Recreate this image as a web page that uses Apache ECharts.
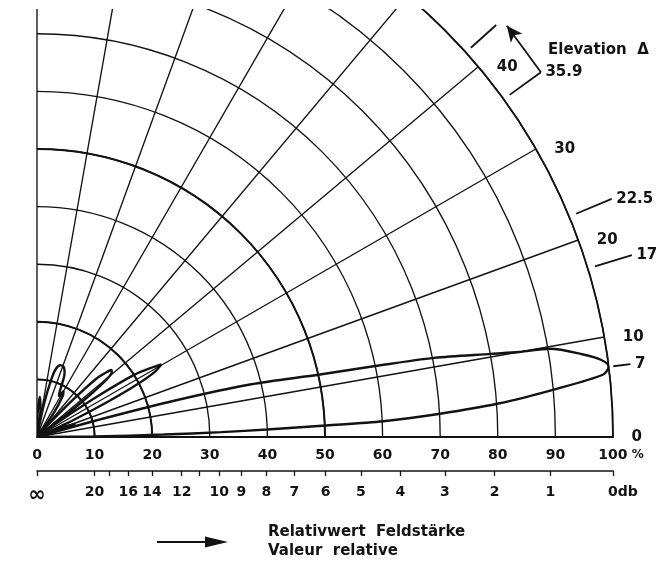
<!DOCTYPE html>
<html>
<head>
<meta charset="utf-8">
<title>Elevation pattern</title>
<script src="https://cdn.jsdelivr.net/npm/echarts@6/dist/echarts.min.js"></script>
<style>
  html, body { margin: 0; padding: 0; background: #fff; }
  #chart { width: 667px; height: 562px; }
</style>
</head>
<body>
<div id="chart"></div>
<script>
// vertical radiation pattern: elevation angle (deg) -> relative field strength (%)
const patternAngles = [0, 0.6, 1.1, 1.5, 1.86, 2.28, 2.61, 3.3, 4.15, 5.3, 6.3, 7.04, 7.8, 8.59, 9.75, 10.0, 10.37, 11.27, 11.85, 12.45, 13.85, 14.8, 15.5, 16.0,
  17.5, 19, 20.5, 22,
  23, 25, 26.5, 27.8, 29, 30.3, 31.3, 32.6, 33.8, 35, 36,
  37.5, 38.5, 39.5, 41, 42, 43, 44.5, 46, 47.5, 48,
  52, 55, 58, 60, 61.5, 63, 65, 66.5, 69, 72, 74.5, 76, 78, 80,
  83, 86, 88.5, 90]
const patternValues = [0, 10, 22, 32, 40, 50.2, 60.2, 70.1, 80.3, 90.6, 98.9, 100, 98.8, 95.9, 90.4, 85, 80.2, 70.3, 60, 50.3, 38.1, 25, 12, 0,
  5, 7, 5, 0,
  0, 7, 14, 20, 23.5, 25, 23, 20, 13, 5, 0,
  7, 12, 15.5, 17.2, 17.4, 16.5, 14.5, 9, 3, 0,
  0, 5, 8.5, 9.2, 8, 8.5, 10.5, 12, 13, 13.1, 12.3, 10.5, 6, 0,
  5, 7, 4, 0]

// grid / scales
const angleLabels = [0, 10, 20, 30, 40]
const thickArcs = [10, 20, 50]
const dbTicks = [20, 18, 16, 14, 12, 11, 10, 9, 8, 7, 6, 5, 4, 3, 2, 1, 0]
const dbLabels = [20, 16, 14, 12, 10, 9, 8, 7, 6, 5, 4, 3, 2, 1, 0]

// marked elevation angles on the rim
const markAngles = [7, 17, 22.5, 35.9]
const bracketAngle = 41.9

const CX = 37, CY = 437, R = 576
const INK = '#121212'
const FONT = 'DejaVu Sans'
const ANN = thickArcs.length + 1   // polar used for the marks outside the rim (radius up to 110 %)

const pct = db => 100 * Math.pow(10, -db / 20)
const dbOf = p => Math.round(-20 * Math.log10(p / 100))

const chart = echarts.init(document.getElementById('chart'))

const polarBase = { type: 'value', min: 0, max: 90, startAngle: 0, endAngle: 90, clockwise: false }
const hidden = { axisLine: { show: false }, axisTick: { show: false }, axisLabel: { show: false }, splitLine: { show: false } }
const txt = { fontFamily: FONT, fontWeight: 'bold', color: INK }

const option = {
  animation: false,
  backgroundColor: '#fff',
  polar: [{ center: [CX, CY], radius: R }]
    .concat(thickArcs.map(v => ({ center: [CX, CY], radius: R * v / 100 })))
    .concat([{ center: [CX, CY], radius: R * 1.1 }]),
  angleAxis: [Object.assign({
    polarIndex: 0,
    interval: 10,
    axisLine: { show: true, lineStyle: { color: INK, width: 1.8 } },
    axisTick: { show: false },
    axisLabel: { show: false },
    splitLine: { show: true, lineStyle: { color: INK, width: 1.35 } }
  }, polarBase)].concat(thickArcs.map((v, i) => Object.assign({}, polarBase, hidden, {
    polarIndex: i + 1,
    axisLine: { show: true, lineStyle: { color: INK, width: 2 } }
  }))).concat([Object.assign({ polarIndex: ANN }, polarBase, hidden)]),
  radiusAxis: [{
    polarIndex: 0,
    type: 'value',
    min: 0,
    max: 100,
    interval: 10,
    axisLine: { show: false },
    axisTick: { show: false },
    axisLabel: { show: false },
    splitLine: { show: true, lineStyle: { color: INK, width: 1.35 } }
  }].concat(thickArcs.map((v, i) => Object.assign({ polarIndex: i + 1, type: 'value', min: 0, max: 100 }, hidden)))
    .concat([Object.assign({ polarIndex: ANN, type: 'value', min: 0, max: 110 }, hidden)]),
  grid: { left: CX, width: R, top: 10, bottom: 562 - CY },
  xAxis: [{
    // percent scale, its line is also the 0 degree baseline
    type: 'value', min: 0, max: 100, interval: 10, position: 'bottom',
    axisLine: { show: true, lineStyle: { color: INK, width: 2 } },
    axisTick: { show: false },
    splitLine: { show: false },
    axisLabel: Object.assign({
      margin: 11, fontSize: 14,
      formatter: v => v === 100 ? '{n|100}{u| %}' : String(v),
      rich: {
        n: Object.assign({ fontSize: 14, padding: [0, 0, 0, 16] }, txt),
        u: Object.assign({ fontSize: 12 }, txt)
      }
    }, txt)
  }, {
    // decibel scale
    type: 'value', min: 0, max: 100, position: 'bottom', offset: 34,
    axisLine: { show: true, lineStyle: { color: INK, width: 1.5 } },
    axisTick: { show: true, length: 5, lineStyle: { color: INK, width: 1.3 }, customValues: [0].concat(dbTicks.map(pct)) },
    splitLine: { show: false },
    axisLabel: Object.assign({
      margin: 14, fontSize: 14,
      customValues: [0].concat(dbLabels.map(pct)),
      formatter: v => {
        if (v === 0) return '{inf|∞}'
        const d = dbOf(v)
        return d === 0 ? '{n|0}{u|db}' : String(d)
      },
      rich: {
        inf: Object.assign({ fontSize: 21 }, txt),
        n: Object.assign({ fontSize: 14, padding: [0, 0, 0, 20] }, txt),
        u: Object.assign({ fontSize: 14 }, txt)
      }
    }, txt)
  }],
  yAxis: { type: 'value', min: 0, max: 1, show: false },
  series: [{
    name: 'pattern',
    type: 'line',
    coordinateSystem: 'polar',
    polarIndex: 0,
    data: patternAngles.map((a, i) => [patternValues[i], a]),
    symbol: 'none',
    smooth: 0.3,
    lineStyle: { color: INK, width: 2.4 },
    z: 5
  }, {
    name: 'angle labels',
    type: 'scatter',
    coordinateSystem: 'polar',
    polarIndex: ANN,
    data: angleLabels.map(a => [100, a]),
    symbolSize: 1,
    itemStyle: { color: 'rgba(0,0,0,0)', opacity: 1 },
    label: Object.assign({
      show: true, position: 'right', distance: 18, fontSize: 15,
      formatter: p => String(p.value[1])
    }, txt)
  }].concat(markAngles.map(a => ({
    type: 'line',
    coordinateSystem: 'polar',
    polarIndex: ANN,
    symbol: 'none',
    data: a === 7 ? [[100.8, a], [103.8, a]] : [[101.3, a], [108, a]],
    lineStyle: { color: INK, width: 1.8 }
  }))).concat([{
    name: 'mark labels',
    type: 'scatter',
    coordinateSystem: 'polar',
    polarIndex: ANN,
    data: markAngles.map(a => [a === 7 ? 103.8 : 108, a]),
    symbolSize: 1,
    itemStyle: { color: 'rgba(0,0,0,0)', opacity: 1 },
    label: Object.assign({
      show: true, position: 'right', distance: 4, fontSize: 15,
      formatter: p => String(p.value[1])
    }, txt)
  }, {
    // bracket tick and arrow showing increasing elevation
    type: 'line',
    coordinateSystem: 'polar',
    polarIndex: ANN,
    symbol: 'none',
    data: [[101.2, bracketAngle], [107.1, bracketAngle]],
    lineStyle: { color: INK, width: 1.8 }
  }, {
    type: 'line',
    coordinateSystem: 'polar',
    polarIndex: ANN,
    symbol: 'none',
    data: [[108, 35.9], [108.4, 41.2]],
    lineStyle: { color: INK, width: 1.8 }
  }, {
    type: 'scatter',
    coordinateSystem: 'polar',
    polarIndex: ANN,
    data: [[108.4, 41.2]],
    symbol: 'arrow',
    symbolSize: [11, 16],
    symbolRotate: 38,
    itemStyle: { color: INK, opacity: 1 }
  }]),
  graphic: [{
    type: 'rect', shape: { x: 0, y: 0, width: 667, height: 9 }, style: { fill: '#fff' }, z: 100
  }, {
    type: 'text', x: 548, y: 50,
    style: { text: 'Elevation  Δ', font: 'bold 15px "DejaVu Sans"', fill: INK, verticalAlign: 'middle' }
  }, {
    type: 'text', x: 268, y: 532,
    style: { text: 'Relativwert  Feldstärke', font: 'bold 15px "DejaVu Sans"', fill: INK, verticalAlign: 'middle' }
  }, {
    type: 'text', x: 268, y: 551,
    style: { text: 'Valeur  relative', font: 'bold 15px "DejaVu Sans"', fill: INK, verticalAlign: 'middle' }
  }, {
    type: 'line', shape: { x1: 157, y1: 542, x2: 212, y2: 542 }, style: { stroke: INK, lineWidth: 2 }
  }, {
    type: 'polygon', shape: { points: [[205, 536.5], [228, 542], [205, 547.5]] }, style: { fill: INK }
  }]
}

chart.setOption(option)
</script>
</body>
</html>
